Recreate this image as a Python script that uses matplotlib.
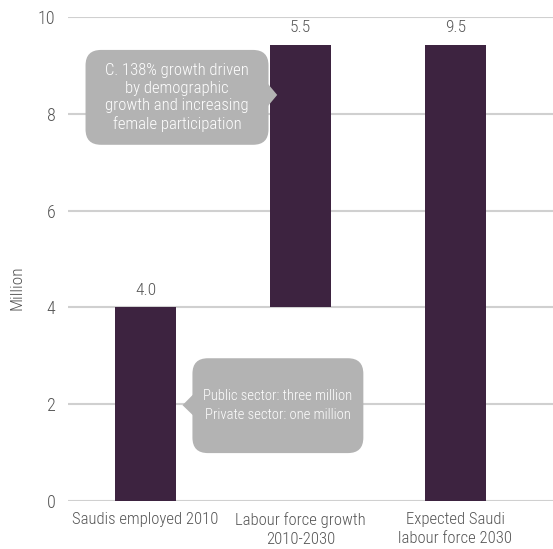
import matplotlib
matplotlib.use("Agg")
import matplotlib.pyplot as plt
from matplotlib.patches import FancyBboxPatch, Polygon

# waterfall data (million)
categories = ["Saudis employed 2010", "Labour force growth\n2010-2030",
              "Expected Saudi\nlabour force 2030"]
bottoms = [0.0, 4.0, 0.0]
heights = [4.0, 5.42, 9.42]
value_labels = ["4.0", "5.5", "9.5"]
y_ticks = [0, 2, 4, 6, 8, 10]

note_growth = "C. 138% growth driven\nby demographic\ngrowth and increasing\nfemale participation"
note_sector = "Public sector: three million\nPrivate sector: one million"

BAR = "#3d2340"
GREY = "#b3b3b3"
TXT = "#555555"

plt.rcParams['font.family'] = ['Roboto Condensed', 'Roboto', 'DejaVu Sans']
plt.rcParams['font.weight'] = 'light'

fig = plt.figure(figsize=(5.53, 5.49), dpi=100)
ax = fig.add_axes([0.123, 0.0874, 0.877, 0.8816])

x = list(range(len(categories)))
ax.bar(x, heights, bottom=bottoms, width=0.39, color=BAR, zorder=3)

for i in x:
    top = bottoms[i] + heights[i]
    ax.text(i, top + 0.2, value_labels[i], ha="center", va="bottom",
            fontsize=12.5, color=TXT)

ax.set_xlim(-0.5, 2.63)
ax.set_ylim(0, 10)
ax.set_yticks(y_ticks)
ax.set_xticks(x)
ax.set_xticklabels(categories, fontsize=12, color=TXT, linespacing=1.3)
ax.tick_params(axis="y", length=0, colors=TXT, labelsize=13, pad=9)
ax.tick_params(axis="x", length=0, colors=TXT, pad=8)
ax.grid(axis="y", color="#d0d0d0", linewidth=1.5, zorder=0)
for s in ax.spines.values():
    s.set_visible(False)
ax.set_ylabel("Million", fontsize=12.5, color=TXT, fontweight="light")
ax.yaxis.set_label_coords(-0.09, 0.44)

# callout bubbles (data coords, aspect-corrected rounding)
asp = 155 / 48.4


def bubble(x0, y0, x1, y1, tip, base, text, size, ls):
    box = FancyBboxPatch((x0, y0), x1 - x0, y1 - y0,
                         boxstyle="round,pad=0,rounding_size=0.1",
                         mutation_aspect=asp, fc=GREY, ec="none", zorder=4)
    ax.add_patch(box)
    ax.add_patch(Polygon([base[0], tip, base[1]], closed=True,
                         fc=GREY, ec="none", zorder=4))
    ax.text((x0 + x1) / 2, (y0 + y1) / 2, text, ha="center", va="center",
            color="white", fontsize=size, linespacing=ls, zorder=5)


bubble(-0.387, 7.36, 0.794, 9.32, (0.85, 8.39),
       [(0.79, 8.62), (0.79, 8.16)], note_growth, 12, 1.2)
bubble(0.303, 0.99, 1.406, 2.95, (0.239, 1.98),
       [(0.31, 2.21), (0.31, 1.76)], note_sector, 10.5, 1.45)

fig.savefig("out.png", dpi=100)
